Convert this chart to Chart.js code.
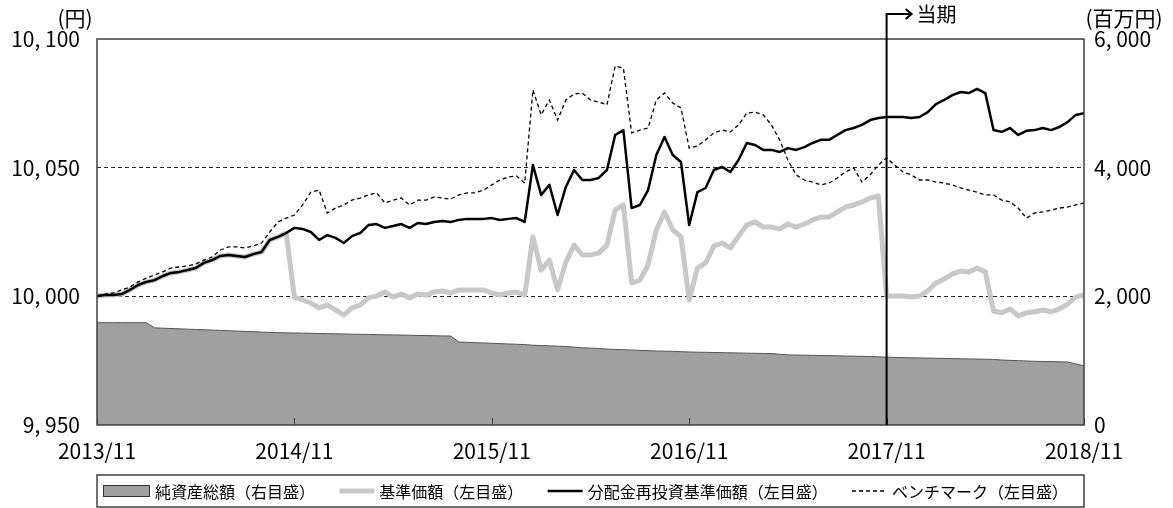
<!DOCTYPE html>
<html lang="ja">
<head>
<meta charset="UTF-8">
<title>基準価額等の推移</title>
<script src="https://cdn.jsdelivr.net/npm/chart.js@4"></script>
<style>
  body { margin: 0; background: #fff; }
  canvas { display: block; }
</style>
</head>
<body>
<canvas id="chart" width="1173" height="508"></canvas>
<script>
  // x: half-month steps from 2013/11 (0) to 2018/11 (120)
  const xTickLabels = ['2013/11', '2014/11', '2015/11', '2016/11', '2017/11', '2018/11'];
  const halfMonths = Array.from({length: 121}, (_, i) => i);
  const currentPeriodIndex = 96; // 2017/11

  // 純資産総額 (百万円, right axis)
  const netAssets = [
    1590, 1590, 1590, 1590, 1590, 1590, 1590, 1510, 1505, 1500,
    1495, 1490, 1485, 1480, 1475, 1470, 1465, 1460, 1455, 1450,
    1445, 1440, 1435, 1432, 1430, 1428, 1425, 1422, 1420, 1418,
    1415, 1412, 1410, 1408, 1405, 1402, 1400, 1398, 1395, 1392,
    1390, 1388, 1385, 1383, 1290, 1285, 1280, 1275, 1270, 1265,
    1260, 1255, 1250, 1240, 1235, 1230, 1225, 1220, 1210, 1200,
    1195, 1190, 1180, 1175, 1170, 1165, 1160, 1155, 1150, 1148,
    1145, 1140, 1135, 1132, 1130, 1127, 1125, 1122, 1120, 1117,
    1115, 1112, 1110, 1100, 1090, 1088, 1085, 1083, 1080, 1078,
    1075, 1072, 1070, 1067, 1065, 1060, 1055, 1050, 1048, 1045,
    1042, 1040, 1037, 1035, 1032, 1030, 1027, 1025, 1022, 1020,
    1010, 1005, 1000, 995, 990, 988, 985, 982, 979, 950,
    920
  ];

  // 基準価額 (円, left axis)
  const basePrice = [
    10000.1, 10000.5, 10000.5, 10000.9, 10002.5, 10004.4, 10005.6, 10006.3, 10007.9, 10009.1,
    10009.5, 10010.2, 10011.0, 10013.0, 10014.1, 10015.7, 10016.1, 10015.7, 10015.3, 10016.4,
    10017.2, 10021.9, 10023.1, 10024.6, 9999.7, 9998.6, 9997.4, 9995.5, 9996.6, 9994.7,
    9992.7, 9995.5, 9996.6, 9999.4, 10000.1, 10001.7, 9999.7, 10000.9, 9999.4, 10000.9,
    10000.5, 10001.7, 10002.1, 10001.3, 10002.5, 10002.5, 10002.5, 10002.5, 10001.3, 10000.5,
    10001.3, 10001.7, 10000.5, 10023.1, 10010.2, 10014.1, 10002.5, 10013.3, 10019.9, 10016.1,
    10016.1, 10016.8, 10019.9, 10033.5, 10035.5, 10005.2, 10006.3, 10012.2, 10025.8, 10032.8,
    10025.8, 10023.1, 9998.6, 10011.0, 10013.0, 10019.6, 10020.7, 10018.8, 10023.4, 10027.7,
    10028.9, 10026.9, 10026.9, 10026.2, 10028.1, 10026.9, 10028.1, 10029.7, 10030.8, 10030.8,
    10032.8, 10034.7, 10035.5, 10036.7, 10038.2, 10039.0, 10000.1, 10000.1, 10000.1, 9999.7,
    10000.1, 10002.1, 10005.2, 10006.7, 10008.7, 10009.8, 10009.5, 10011.0, 10009.5, 9994.3,
    9993.6, 9995.1, 9992.4, 9993.6, 9994.0, 9994.7, 9994.0, 9995.1, 9997.0, 9999.7,
    10000.5
  ];

  // 分配金再投資基準価額 (円, left axis)
  const reinvested = [
    10000.1, 10000.5, 10000.5, 10000.9, 10002.5, 10004.4, 10005.6, 10006.3, 10007.9, 10009.1,
    10009.5, 10010.2, 10011.0, 10013.0, 10014.1, 10015.7, 10016.1, 10015.7, 10015.3, 10016.4,
    10017.2, 10021.9, 10023.1, 10024.6, 10026.6, 10026.2, 10025.0, 10021.9, 10023.8, 10022.7,
    10020.7, 10023.4, 10024.6, 10027.7, 10028.1, 10026.6, 10027.3, 10028.1, 10026.6, 10028.5,
    10028.1, 10028.9, 10029.3, 10028.9, 10029.7, 10030.1, 10030.1, 10030.1, 10030.4, 10029.7,
    10030.1, 10030.4, 10028.9, 10051.0, 10039.4, 10043.3, 10031.6, 10042.5, 10049.1, 10045.2,
    10045.2, 10046.0, 10049.1, 10062.7, 10064.6, 10034.3, 10035.5, 10041.3, 10054.9, 10061.9,
    10054.9, 10052.2, 10027.7, 10040.5, 10042.1, 10049.1, 10050.3, 10048.3, 10053.0, 10059.6,
    10058.8, 10056.9, 10056.9, 10056.1, 10057.6, 10056.9, 10058.0, 10059.6, 10060.8, 10060.8,
    10062.7, 10064.6, 10065.4, 10066.6, 10068.5, 10069.3, 10069.7, 10069.7, 10069.7, 10069.3,
    10069.7, 10071.6, 10074.7, 10076.3, 10078.2, 10079.4, 10079.0, 10080.6, 10079.0, 10064.6,
    10063.9, 10065.4, 10062.7, 10064.3, 10064.6, 10065.4, 10064.6, 10065.8, 10067.7, 10070.5,
    10071.2
  ];

  // ベンチマーク (left axis)
  const benchmark = [
    10000.1, 10000.9, 10001.3, 10002.5, 10003.6, 10005.6, 10007.1, 10008.3, 10009.5, 10011.0,
    10011.4, 10011.8, 10012.6, 10014.1, 10015.3, 10018.0, 10019.2, 10019.2, 10018.8, 10019.6,
    10020.7, 10025.0, 10028.9, 10030.4, 10031.6, 10035.5, 10040.5, 10041.3, 10032.4, 10034.3,
    10035.5, 10037.4, 10038.2, 10039.4, 10040.2, 10036.3, 10037.4, 10038.2, 10035.5, 10037.4,
    10037.4, 10038.6, 10038.2, 10037.8, 10039.4, 10040.2, 10040.2, 10041.3, 10043.3, 10045.2,
    10046.4, 10046.8, 10044.0, 10080.2, 10070.5, 10076.3, 10068.5, 10076.3, 10078.6, 10079.0,
    10076.3, 10075.5, 10074.4, 10089.5, 10088.7, 10063.5, 10064.6, 10065.4, 10076.3, 10079.0,
    10075.1, 10073.2, 10057.6, 10058.4, 10060.8, 10063.5, 10064.6, 10063.9, 10066.6, 10071.2,
    10071.6, 10070.5, 10066.6, 10060.8, 10053.0, 10047.2, 10045.2, 10044.4, 10043.3, 10044.0,
    10046.0, 10048.3, 10049.9, 10044.4, 10047.2, 10051.0, 10053.8, 10051.0, 10048.3, 10047.2,
    10045.2, 10045.2, 10044.4, 10044.0, 10043.3, 10042.1, 10041.3, 10040.5, 10039.4, 10039.4,
    10037.4, 10036.7, 10034.3, 10030.4, 10032.4, 10032.8, 10033.5, 10034.3, 10034.7, 10035.5,
    10036.3
  ];

  const FONT = "'Noto Sans CJK JP', 'Noto Sans', sans-serif";
  const tickFont = {family: FONT, size: 21};

  // 10100 -> "10, 100"
  function fmt(v) {
    const s = String(v);
    return s.length > 3 ? s.slice(0, -3) + ', ' + s.slice(-3) : s;
  }

  const decorations = {
    id: 'decorations',
    afterDatasetsDraw(chart) {
      const {ctx, chartArea: a, scales: {x}} = chart;
      ctx.save();
      // frame
      ctx.strokeStyle = '#404040';
      ctx.lineWidth = 1.5;
      ctx.strokeRect(a.left, a.top, a.right - a.left, a.bottom - a.top);
      // small inner ticks on the time axis
      ctx.lineWidth = 1;
      x.ticks.forEach(t => {
        const px = Math.round(x.getPixelForValue(t.value)) + 0.5;
        ctx.beginPath();
        ctx.moveTo(px, a.bottom);
        ctx.lineTo(px, a.bottom - 7);
        ctx.stroke();
      });
      // 当期 marker
      const cx = x.getPixelForValue(currentPeriodIndex);
      const topY = 14;
      ctx.strokeStyle = '#000';
      ctx.lineWidth = 2;
      ctx.beginPath();
      ctx.moveTo(cx, a.bottom);
      ctx.lineTo(cx, topY);
      ctx.lineTo(cx + 25, topY);
      ctx.moveTo(cx + 19, topY - 5);
      ctx.lineTo(cx + 25, topY);
      ctx.lineTo(cx + 19, topY + 5);
      ctx.stroke();
      ctx.fillStyle = '#000';
      ctx.font = `20px ${FONT}`;
      ctx.textBaseline = 'middle';
      ctx.textAlign = 'left';
      ctx.fillText('当期', cx + 30, topY);
      ctx.restore();
    },
    afterDraw(chart) {
      const {ctx, chartArea: a} = chart;
      ctx.save();
      ctx.fillStyle = '#000';
      ctx.font = `21px ${FONT}`;
      ctx.textBaseline = 'middle';
      ctx.textAlign = 'center';
      ctx.fillText('(円)', 75, 18);
      ctx.fillText('(百万円)', 1124, 18);

      // legend box
      const box = {left: a.left, right: a.right, top: chart.height - 33, bottom: chart.height - 1};
      ctx.strokeStyle = '#404040';
      ctx.lineWidth = 1.5;
      ctx.strokeRect(box.left, box.top, box.right - box.left, box.bottom - box.top);

      const ds = chart.data.datasets;
      ctx.font = `16px ${FONT}`;
      ctx.textAlign = 'left';
      const swatchW = [47, 35, 35, 35];
      const textGap = 5;
      const widths = ds.map(d => ctx.measureText(d.label).width);
      const startX = box.left + 6, endX = box.right - 16;
      const fixed = swatchW.reduce((s, w) => s + w, 0) + textGap * ds.length + widths.reduce((s, w) => s + w, 0);
      const gap = (endX - startX - fixed) / (ds.length - 1);
      const cy = (box.top + box.bottom) / 2;
      let px = startX;
      ds.forEach((d, i) => {
        if (d.fill) {
          ctx.fillStyle = d.backgroundColor;
          ctx.fillRect(px, cy - 6, swatchW[i], 12);
          ctx.strokeStyle = '#333';
          ctx.lineWidth = 1;
          ctx.strokeRect(px + 0.5, cy - 5.5, swatchW[i] - 1, 11);
        } else {
          ctx.strokeStyle = d.borderColor;
          ctx.lineWidth = d.borderWidth;
          ctx.setLineDash(d.borderDash || []);
          ctx.beginPath();
          ctx.moveTo(px, cy);
          ctx.lineTo(px + swatchW[i], cy);
          ctx.stroke();
          ctx.setLineDash([]);
        }
        px += swatchW[i] + textGap;
        ctx.fillStyle = '#000';
        ctx.fillText(d.label, px, cy + 1);
        px += widths[i] + gap;
      });
      ctx.restore();
    }
  };

  new Chart(document.getElementById('chart'), {
    type: 'line',
    data: {
      labels: halfMonths,
      datasets: [
        {
          label: '純資産総額（右目盛）',
          data: netAssets,
          yAxisID: 'y1',
          fill: 'origin',
          backgroundColor: '#a0a0a0',
          borderColor: '#555',
          borderWidth: 1,
          pointRadius: 0,
          order: 4
        },
        {
          label: '基準価額（左目盛）',
          data: basePrice,
          yAxisID: 'y',
          borderColor: '#c8c8c8',
          borderWidth: 5,
          borderJoinStyle: 'round',
          pointRadius: 0,
          order: 3
        },
        {
          label: '分配金再投資基準価額（左目盛）',
          data: reinvested,
          yAxisID: 'y',
          borderColor: '#000',
          borderWidth: 2.5,
          borderJoinStyle: 'round',
          pointRadius: 0,
          order: 2
        },
        {
          label: 'ベンチマーク（左目盛）',
          data: benchmark,
          yAxisID: 'y',
          borderColor: '#000',
          borderWidth: 1.3,
          borderDash: [4, 3],
          pointRadius: 0,
          order: 1
        }
      ]
    },
    options: {
      responsive: false,
      animation: false,
      devicePixelRatio: 1,
      layout: {padding: {top: 39, left: 0, right: 0, bottom: 0}},
      plugins: {legend: {display: false}, tooltip: {enabled: false}},
      scales: {
        x: {
          type: 'linear',
          min: 0,
          max: 120,
          afterFit(s) { s.height = 83; },
          ticks: {
            stepSize: 24,
            autoSkip: false,
            maxRotation: 0,
            padding: 13,
            color: '#000',
            font: tickFont,
            callback: v => xTickLabels[v / 24]
          },
          grid: {display: false, drawTicks: false},
          border: {display: false}
        },
        y: {
          position: 'left',
          min: 9950,
          max: 10100,
          afterFit(s) { s.width = 97; },
          ticks: {stepSize: 50, padding: 17, color: '#000', font: tickFont, callback: v => fmt(v)},
          grid: {
            drawTicks: false,
            lineWidth: 1,
            color: c => (c.tick && (c.tick.value === 10000 || c.tick.value === 10050)) ? '#222' : 'rgba(0,0,0,0)'
          },
          border: {display: false, dash: [4, 3]}
        },
        y1: {
          position: 'right',
          min: 0,
          max: 6000,
          afterFit(s) { s.width = 89; },
          ticks: {stepSize: 2000, padding: 10, color: '#000', font: tickFont, callback: v => fmt(v)},
          grid: {display: false, drawTicks: false},
          border: {display: false}
        }
      }
    },
    plugins: [decorations]
  });
</script>
</body>
</html>
